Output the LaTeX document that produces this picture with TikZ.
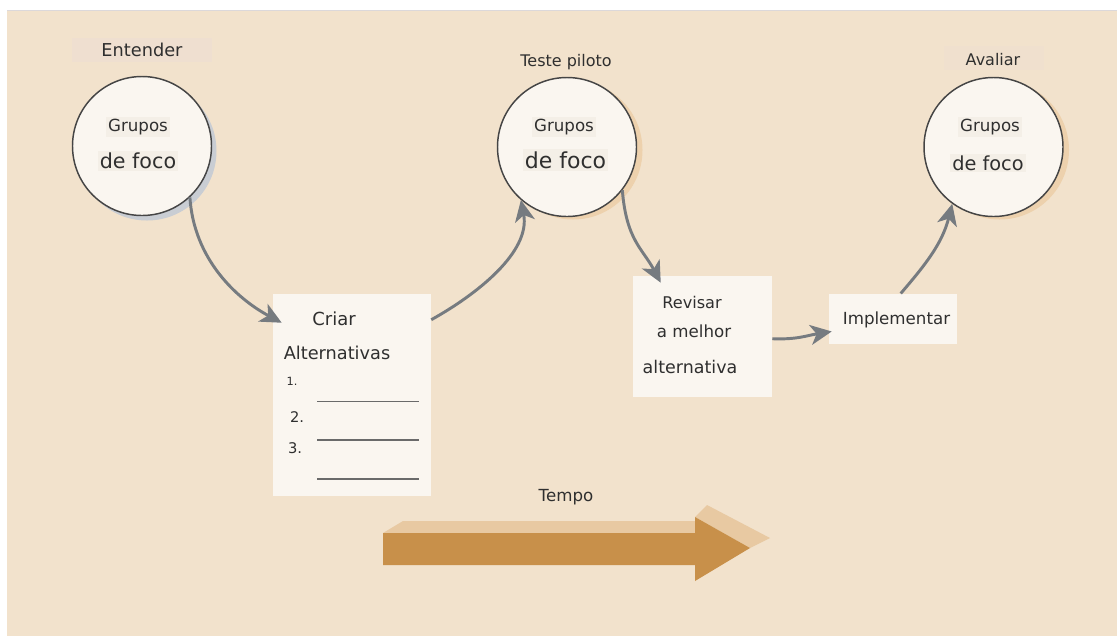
\documentclass[tikz,border=0pt]{standalone}
\usepackage{fontspec}
\setmainfont{DejaVu Sans}
\usetikzlibrary{arrows.meta}

\definecolor{pagebg}{HTML}{F2E2CC}
\definecolor{edgeline}{HTML}{DCD8DA}
\definecolor{paper}{HTML}{FAF6F0}
\definecolor{labelfill}{HTML}{F4EFE7}
\definecolor{tagfill}{HTML}{EFDFD0}
\definecolor{ringline}{HTML}{454545}
\definecolor{shadowblue}{HTML}{C9CDD3}
\definecolor{shadowtan}{HTML}{EDD1AD}
\definecolor{flowgray}{HTML}{767B80}
\definecolor{textdark}{HTML}{2F2F2F}
\definecolor{timedark}{HTML}{C8904A}
\definecolor{timelight}{HTML}{E8C9A2}

\tikzset{
  ring/.style={circle, draw=ringline, line width=1.1pt, fill=paper,
               minimum size=104.25pt, inner sep=0pt},
  card/.style={rectangle, fill=paper, inner sep=0pt},
  txt/.style={text=textdark, inner sep=1.5pt, font=\fontsize{12.5pt}{14pt}\selectfont},
  bigtxt/.style={txt, font=\fontsize{15.5pt}{18pt}\selectfont},
  flow/.style={draw=flowgray, line width=2.2pt,
               -{Stealth[length=16pt,width=15pt,inset=4.5pt]}},
  blank/.style={draw=ringline!80, line width=1.1pt}
}

\begin{document}
\begin{tikzpicture}[x=0.75pt,y=-0.75pt]
  \useasboundingbox (0,0) rectangle (1117,637);

  % page background
  \fill[pagebg] (7,10) rectangle (1117,636);
  \draw[edgeline, line width=0.9pt] (7,10.5) -- (1117,10.5);

  % circle shadows
  \fill[shadowblue] (147,151) circle (69.5);
  \fill[shadowtan]  (573,150) circle (69.5);
  \fill[shadowtan]  (999.5,150) circle (69.5);

  % focus-group circles
  \node[ring] (c1) at (142,146) {};
  \node[ring] (c2) at (567,147) {};
  \node[ring] (c3) at (993.5,147) {};

  % stage titles
  \node[txt, fill=tagfill, minimum width=105pt, minimum height=18.5pt,
        font=\fontsize{13.3pt}{15pt}\selectfont] (t1) at (142,50) {Entender};
  \node[txt, font=\fontsize{12pt}{14pt}\selectfont] (t2) at (566,62) {Teste piloto};
  \node[txt, fill=tagfill!60!pagebg, minimum width=75pt, minimum height=18pt] (t3) at (994,58) {};
  \node[txt, font=\fontsize{12pt}{14pt}\selectfont] (t3b) at (993,60) {Avaliar};

  % circle labels
  \node[txt, fill=labelfill] (g1) at (138,127) {Grupos};
  \node[bigtxt, fill=labelfill] (f1) at (138,161) {de foco};
  \node[txt, fill=labelfill] (g2) at (564,127) {Grupos};
  \node[bigtxt, fill=labelfill, font=\fontsize{16.5pt}{18pt}\selectfont] (f2) at (565.5,160) {de foco};
  \node[txt, fill=labelfill] (g3) at (990,127) {Grupos};
  \node[bigtxt, fill=labelfill, font=\fontsize{14.5pt}{18pt}\selectfont] (f3) at (988,163) {de foco};

  % cards
  \node[card, minimum width=118.5pt, minimum height=151.5pt] (b1) at (352,395) {};
  \node[card, minimum width=104.25pt, minimum height=90.75pt] (b2) at (702.5,336.5) {};
  \node[card, minimum width=96pt, minimum height=37.9pt] (b3) at (893,319) {};

  % card: alternatives list
  \node[txt, font=\fontsize{13.5pt}{16pt}\selectfont] (k1) at (334,319) {Criar};
  \node[txt, font=\fontsize{13.3pt}{16pt}\selectfont] (k2) at (337,353) {Alternativas};
  \node[txt, font=\fontsize{8.5pt}{10pt}\selectfont] (n1) at (292,381) {1.};
  \node[txt, font=\fontsize{11pt}{13pt}\selectfont] (n2) at (297,417) {2.};
  \node[txt, font=\fontsize{11pt}{13pt}\selectfont] (n3) at (295,448) {3.};
  \coordinate (l1a) at (317,401.5); \coordinate (l1b) at (418.5,401.5);
  \coordinate (l2a) at (317,440);   \coordinate (l2b) at (418.5,440);
  \coordinate (l3a) at (317,479);   \coordinate (l3b) at (418.5,479);
  \draw[blank] (l1a) -- (l1b);
  \draw[blank] (l2a) -- (l2b);
  \draw[blank] (l3a) -- (l3b);

  % card: review
  \node[txt, font=\fontsize{12.1pt}{14pt}\selectfont] (r1) at (692,302) {Revisar};
  \node[txt] (r2) at (694,331) {a melhor};
  \node[txt, font=\fontsize{13.1pt}{16pt}\selectfont] (r3) at (690,367) {alternativa};

  % card: implement
  \node[txt] (i1) at (896.5,320) {Implementar};

  % flow connectors
  \draw[flow] (c1.-47) .. controls +(4,62) and +(-45,-24) .. ([shift={(9,29)}]b1.north west);
  \draw[flow] ([shift={(0,26)}]b1.north east) .. controls +(45,-25) and +(10,52) .. (c2.229);
  \draw[flow] (c2.-38) .. controls +(4,50) and +(-18,-34) .. ([shift={(28,7)}]b2.north west);
  \draw[flow] ([shift={(0,63)}]b2.north east) .. controls +(25,1) and +(-25,4) .. ([shift={(3,38)}]b3.north west);
  \draw[flow] ([shift={(72,0)}]b3.north west) .. controls +(24,-28) and +(-10,40) .. (c3.234);

  % time arrow
  \node[txt] (tm) at (566,497) {Tempo};
  \fill[timelight] (383,533) -- (403,521) -- (695,521) -- (695,533) -- cycle;
  \fill[timelight] (695,517) -- (707,505) -- (770,538) -- (750,548) -- cycle;
  \fill[timedark] (383,533) -- (695,533) -- (695,517) -- (750,548)
                  -- (695,581) -- (695,565) -- (383,565) -- cycle;
\end{tikzpicture}
\end{document}
